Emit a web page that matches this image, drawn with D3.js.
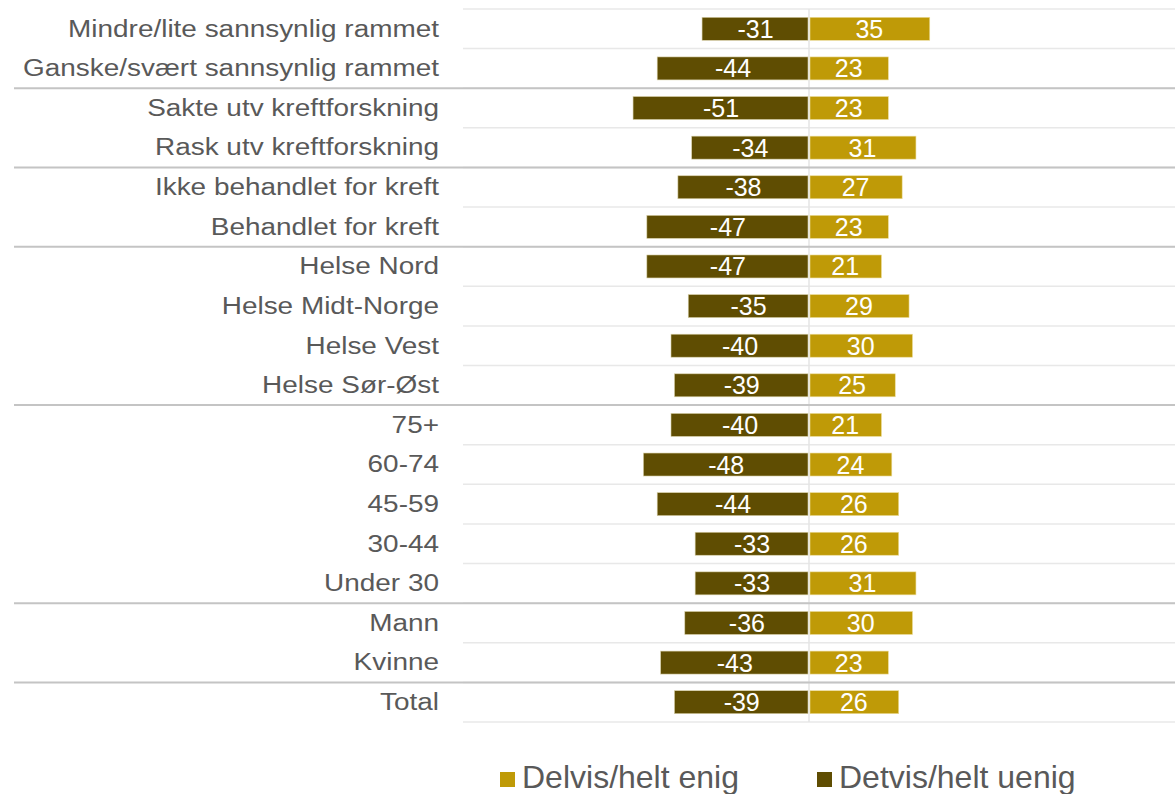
<!DOCTYPE html>
<html><head><meta charset="utf-8">
<script src="https://cdn.jsdelivr.net/npm/d3@7"></script>
<style>body{margin:0;background:#fff}svg{display:block}text{font-family:"Liberation Sans",Arial,sans-serif}</style>
</head><body><div id="c"></div>
<script>
const categories = ["Mindre/lite sannsynlig rammet","Ganske/svært sannsynlig rammet","Sakte utv kreftforskning","Rask utv kreftforskning","Ikke behandlet for kreft","Behandlet for kreft","Helse Nord","Helse Midt-Norge","Helse Vest","Helse Sør-Øst","75+","60-74","45-59","30-44","Under 30","Mann","Kvinne","Total"];
const uenig = [-31,-44,-51,-34,-38,-47,-47,-35,-40,-39,-40,-48,-44,-33,-33,-36,-43,-39];
const enig = [35,23,23,31,27,23,21,29,30,25,21,24,26,26,31,30,23,26];
const groupBreaks = [2,4,6,10,15,17];
const seriesNames = ["Delvis/helt enig","Detvis/helt uenig"];
const colEnig = "#bf9a07", colUenig = "#5f4d02";

const W=1175,H=794;
const svg=d3.select("#c").append("svg").attr("width",W).attr("height",H);
const x=d3.scaleLinear().domain([-100,100]).range([464,1154]);
const y=d3.scaleBand().domain(categories).range([9,722]).paddingInner(0.42).paddingOuter(0.21);
const step=y.step();
const bounds=d3.range(categories.length+1).map(i=>9+i*step);

// light gridlines
svg.append("g").selectAll("line").data(bounds).join("line")
 .attr("x1",463).attr("x2",W).attr("y1",d=>d).attr("y2",d=>d)
 .attr("stroke","#e8e8e8").attr("stroke-width",1.5);
// zero line
svg.append("line").attr("x1",x(0)).attr("x2",x(0)).attr("y1",9).attr("y2",722).attr("stroke","#e4e4e4").attr("stroke-width",1.5);
// group separators
svg.append("g").selectAll("line").data(groupBreaks).join("line")
 .attr("x1",14).attr("x2",W).attr("y1",d=>bounds[d]).attr("y2",d=>bounds[d])
 .attr("stroke","#c4c4c4").attr("stroke-width",2);

const bars=svg.append("g");
bars.selectAll(".u").data(categories).join("rect")
 .attr("x",(d,i)=>x(uenig[i])).attr("width",(d,i)=>x(0)-x(uenig[i])-1)
 .attr("y",d=>y(d)).attr("height",y.bandwidth()).attr("fill",colUenig)
 .attr("stroke","#d8d0a8").attr("stroke-width",0.6);
bars.selectAll(".e").data(categories).join("rect")
 .attr("x",x(0)+1).attr("width",(d,i)=>x(enig[i])-x(0)-1)
 .attr("y",d=>y(d)).attr("height",y.bandwidth()).attr("fill",colEnig)
 .attr("stroke","#ecdc9a").attr("stroke-width",0.6);

const lab=svg.append("g").attr("fill","#fff").attr("font-size",25).attr("text-anchor","middle");
lab.selectAll(".lu").data(categories).join("text")
 .attr("x",(d,i)=>(x(uenig[i])+x(0))/2).attr("y",d=>y(d)+y.bandwidth()/2).attr("dy","0.36em").text((d,i)=>uenig[i]);
lab.selectAll(".le").data(categories).join("text")
 .attr("x",(d,i)=>(x(enig[i])+x(0))/2).attr("y",d=>y(d)+y.bandwidth()/2).attr("dy","0.36em").text((d,i)=>enig[i]);

// category axis labels
const yAxis=d3.axisLeft(y).tickSize(0).tickPadding(0);
const ga=svg.append("g").attr("transform","translate(439,0)").call(yAxis);
ga.select(".domain").remove();
ga.selectAll("text").attr("font-size",24.5).attr("fill","#595959")
 .attr("font-family","Liberation Sans, Arial, sans-serif").attr("transform","scale(1.14,1)");

// legend
const lg=svg.append("g").attr("font-size",32).attr("fill","#595959");
const items=[{n:seriesNames[0],c:colEnig,x:500},{n:seriesNames[1],c:colUenig,x:817}];
items.forEach(it=>{
 lg.append("rect").attr("x",it.x).attr("y",772).attr("width",15).attr("height",15).attr("fill",it.c);
 lg.append("text").attr("x",it.x+22).attr("y",788).text(it.n);
});
</script></body></html>
